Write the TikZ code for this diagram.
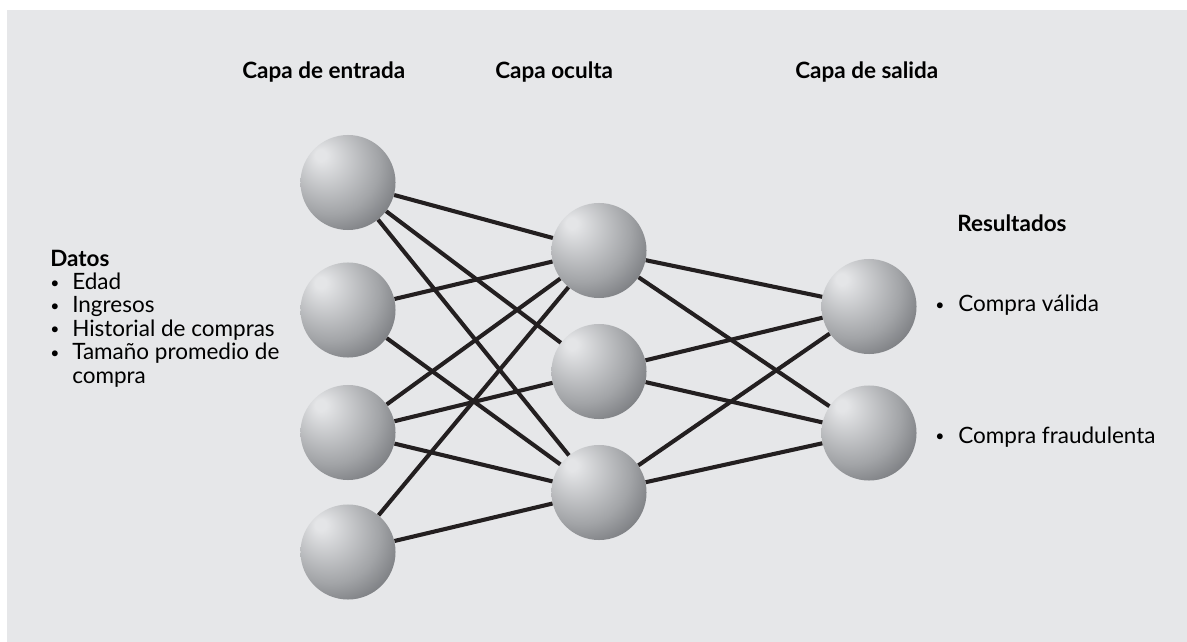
\documentclass[tikz,border=0pt]{standalone}
\usepackage{fontspec}
\setmainfont{Lato}
\usepackage{xcolor,graphicx}
\usetikzlibrary{positioning}

\definecolor{panel}{HTML}{E6E7E9}
\definecolor{ink}{HTML}{231F20}
\definecolor{ballhi}{HTML}{E4E5E7}
\definecolor{ballmid}{HTML}{A2A4A7}
\definecolor{balllo}{HTML}{505257}
\pgfdeclareradialshading{sphere}{\pgfpoint{-15bp}{15bp}}{color(0bp)=(ballhi); color(3bp)=(ballhi); color(26bp)=(ballmid); color(48bp)=(balllo); color(70bp)=(balllo)}
\newcommand{\bulletdot}{\raisebox{0.12ex}{\scalebox{0.7}{\textbullet}}}
\newcommand{\itm}{\makebox[0.55cm][l]{\bulletdot}}

\begin{document}
\begin{tikzpicture}[x=0.025cm,y=-0.025cm,
neuron/.style={circle,shading=sphere,minimum size=2.375cm,inner sep=0pt},
link/.style={draw=ink,line width=2.9pt},
head/.style={anchor=base west,inner sep=0pt,font=\fontsize{16}{18}\selectfont\bfseries},
txt/.style={anchor=base west,inner sep=0pt,align=left,font=\fontsize{16}{16.6}\selectfont}]

\useasboundingbox (0,0) rectangle (1187,642);
\fill[panel] (7,10) rectangle (1187,642);

% titulos
\node[head] (hin) at (242,79) {Capa de entrada};
\node[head] (hhid) at (495,79) {Capa oculta};
\node[head] (hout) at (795,79) {Capa de salida};

% entradas y salidas
\node[txt] (datos) at (50,383) {\textbf{Datos}\\\itm Edad\\\itm Ingresos\\\itm Historial de compras\\\itm Tamaño promedio de\\\hspace*{0.55cm}compra};
\node[head] (res) at (957,232) {Resultados};
\node[txt] (valida) at (935,312) {\makebox[0.575cm][l]{\bulletdot}Compra válida};
\node[txt] (fraude) at (935,443) {\makebox[0.575cm][l]{\bulletdot}Compra fraudulenta};

% neuronas
\node[neuron] (in1) at (348,182.5) {};
\node[neuron] (in2) at (348,310) {};
\node[neuron] (in3) at (348,432.5) {};
\node[neuron] (in4) at (348,552) {};
\node[neuron] (hid1) at (599,250.5) {};
\node[neuron] (hid2) at (599,371.5) {};
\node[neuron] (hid3) at (599,492.5) {};
\node[neuron] (out1) at (869,306.5) {};
\node[neuron] (out2) at (869,433) {};

% conexiones
\draw[link] (in1)--(hid1);
\draw[link] (in1)--(hid2);
\draw[link] (in1)--(hid3);
\draw[link] (in2)--(hid1);
\draw[link] (in2)--(hid3);
\draw[link] (in3)--(hid1);
\draw[link] (in3)--(hid2);
\draw[link] (in3)--(hid3);
\draw[link] (in4)--(hid1);
\draw[link] (in4)--(hid3);
\draw[link] (hid1)--(out1);
\draw[link] (hid1)--(out2);
\draw[link] (hid2)--(out1);
\draw[link] (hid2)--(out2);
\draw[link] (hid3)--(out1);
\draw[link] (hid3)--(out2);
\end{tikzpicture}
\end{document}
